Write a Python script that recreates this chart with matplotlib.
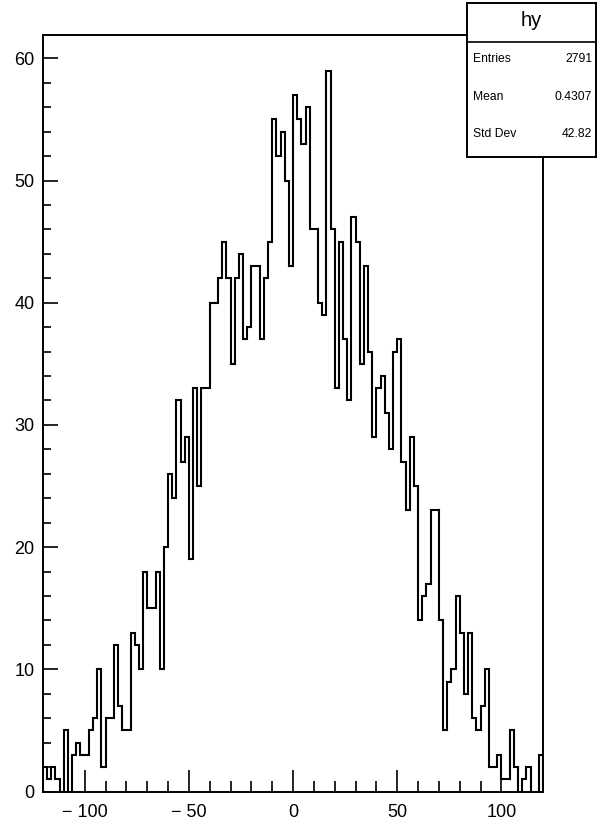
import matplotlib.pyplot as plt
import numpy as np
from matplotlib.ticker import MultipleLocator

# hy histogram, 120 bins on [-120, 120]
counts = [2, 1, 2, 1, 0, 5, 0, 3, 4, 3, 3, 5, 6, 10, 2, 6, 6, 12, 7, 5,
          5, 13, 12, 10, 18, 15, 15, 18, 10, 20, 26, 24, 32, 27, 29, 19, 33, 25, 33, 33,
          40, 40, 42, 45, 42, 35, 42, 44, 37, 38, 43, 43, 37, 42, 45, 55, 52, 54, 50, 43,
          57, 55, 53, 56, 46, 46, 40, 39, 59, 46, 33, 45, 37, 32, 47, 45, 35, 43, 36, 29,
          33, 34, 31, 28, 36, 37, 27, 23, 29, 25, 14, 16, 17, 23, 23, 14, 5, 9, 10, 16,
          13, 8, 13, 6, 5, 7, 10, 2, 2, 3, 1, 1, 5, 2, 0, 1, 2, 0, 0, 3]
xmin, xmax, nbins = -120, 120, 120
edges = np.linspace(xmin, xmax, nbins + 1)

xtick_vals = [-100, -50, 0, 50, 100]
xtick_text = ['\u2212 100', '\u2212 50', '0', '50', '100']

stats_title = 'hy'
stats_labels = ['Entries', 'Mean', 'Std Dev']
stats_values = ['2791', '0.4307', '42.82']

plt.rcParams['font.family'] = ['Liberation Sans', 'DejaVu Sans']

W, H = 598, 832
fig = plt.figure(figsize=(W / 100, H / 100), dpi=100)
fig.patch.set_facecolor('white')

# main frame (pixel positions from the reference)
left, right, top, bottom = 43, 543, 34.5, 791.5
ax = fig.add_axes([left / W, 1 - bottom / H, (right - left) / W, (bottom - top) / H])
ax.stairs(counts, edges, color='black', lw=1.5)
ax.set_xlim(xmin, xmax)
ax.set_ylim(0, max(counts) * 1.05)

for s in ax.spines.values():
    s.set_linewidth(1.4)

ax.xaxis.set_major_locator(MultipleLocator(50))
ax.xaxis.set_minor_locator(MultipleLocator(10))
ax.yaxis.set_major_locator(MultipleLocator(10))
ax.yaxis.set_minor_locator(MultipleLocator(2))
ax.tick_params(axis='x', which='major', direction='in', length=15.8, width=1.2, labelsize=13, pad=9)
ax.tick_params(axis='x', which='minor', direction='in', length=7.9, width=1.2)
ax.tick_params(axis='y', which='major', direction='in', length=10.8, width=1.2, labelsize=13, pad=6)
ax.tick_params(axis='y', which='minor', direction='in', length=5.4, width=1.2)
ax.set_xticks(xtick_vals)
ax.set_xticklabels(xtick_text)

# stats box
bl, br, bt, bb = 467, 596, 3, 157
sax = fig.add_axes([bl / W, 1 - bb / H, (br - bl) / W, (bb - bt) / H])
sax.set_xlim(0, 1)
sax.set_ylim(0, 1)
sax.set_xticks([])
sax.set_yticks([])
for s in sax.spines.values():
    s.set_linewidth(1.4)
sax.axhline((bb - 42) / (bb - bt), color='black', lw=1.2)
sax.text(0.5, (bb - 21) / (bb - bt), stats_title, ha='center', va='center', fontsize=14.5)
rows_y = [59, 97, 134]
for lab, val, yy in zip(stats_labels, stats_values, rows_y):
    fy = (bb - yy) / (bb - bt)
    sax.text(0.05, fy, lab, ha='left', va='center', fontsize=8.7)
    sax.text(0.97, fy, val, ha='right', va='center', fontsize=8.7)

fig.savefig('out.png', dpi=100)
